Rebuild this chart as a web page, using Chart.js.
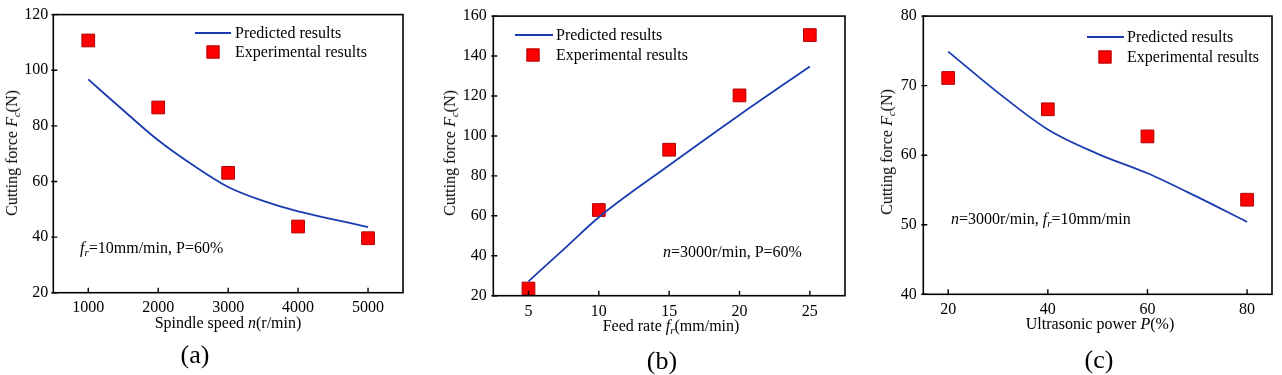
<!DOCTYPE html>
<html>
<head>
<meta charset="utf-8">
<script src="https://cdn.jsdelivr.net/npm/chart.js@4.4.1/dist/chart.umd.min.js"></script>
<style>
  html, body { margin:0; padding:0; background:#fff; }
  #wrap { position:relative; width:1282px; height:375px; overflow:hidden; font-family:"Liberation Serif","Times New Roman",serif; color:#000; }
  .panel { position:absolute; top:0; height:375px; }
  .panel canvas { position:absolute; left:0; top:0; }
  .t { position:absolute; white-space:nowrap; font-size:16px; line-height:1; }
  .c { transform:translate(-50%,-50%); }
  .r { transform:translate(-50%,-50%) rotate(-90deg); }
  .l { transform:translateY(-50%); }
  sub { font-size:11px; vertical-align:-3px; line-height:0; }
  .lgline { position:absolute; height:2px; background:#1a3cb0; }
  .lgsq { position:absolute; width:11px; height:11px; background:#ff0000; border:1px solid #b00000; transform:translate(-50%,-50%); }
  .lab { font-size:26px; }
</style>
</head>
<body>
<div id="wrap">
  <div class="panel" id="pa" style="left:0;width:425px;">
    <canvas id="ca" width="425" height="375"></canvas>
    <div class="t r" style="left:12px;top:153px;">Cutting force <i>F</i><sub><i>c</i></sub>(N)</div>
    <div class="t c" style="left:228px;top:323px;">Spindle speed <i>n</i>(r/min)</div>
    <div class="t c lab" style="left:195px;top:355px;">(a)</div>
    <div class="t l" style="left:80px;top:248px;"><i>f</i><sub><i>r</i></sub>=10mm/min, P=60%</div>
    <div class="lgline" style="left:195px;top:32px;width:36px;"></div>
    <div class="t l" style="left:235px;top:33px;">Predicted results</div>
    <div class="lgsq" style="left:213px;top:52px;"></div>
    <div class="t l" style="left:235px;top:52px;">Experimental results</div>
  </div>
  <div class="panel" id="pb" style="left:425px;width:430px;">
    <canvas id="cb" width="430" height="375"></canvas>
    <div class="t r" style="left:25px;top:153px;">Cutting force <i>F</i><sub><i>c</i></sub>(N)</div>
    <div class="t c" style="left:246px;top:326px;">Feed rate <i>f</i><sub><i>r</i></sub>(mm/min)</div>
    <div class="t c lab" style="left:237px;top:361px;">(b)</div>
    <div class="t l" style="left:238px;top:252px;"><i>n</i>=3000r/min, P=60%</div>
    <div class="lgline" style="left:90px;top:34px;width:38px;"></div>
    <div class="t l" style="left:131px;top:35px;">Predicted results</div>
    <div class="lgsq" style="left:108px;top:55px;"></div>
    <div class="t l" style="left:131px;top:55px;">Experimental results</div>
  </div>
  <div class="panel" id="pc" style="left:855px;width:427px;">
    <canvas id="cc" width="427" height="375"></canvas>
    <div class="t r" style="left:32px;top:152px;">Cutting force <i>F</i><sub><i>c</i></sub>(N)</div>
    <div class="t c" style="left:245px;top:324px;">Ultrasonic power <i>P</i>(%)</div>
    <div class="t c lab" style="left:244px;top:360px;">(c)</div>
    <div class="t l" style="left:96px;top:219px;"><i>n</i>=3000r/min, <i>f</i><sub><i>r</i></sub>=10mm/min</div>
    <div class="lgline" style="left:232px;top:36px;width:37px;"></div>
    <div class="t l" style="left:272px;top:37px;">Predicted results</div>
    <div class="lgsq" style="left:250px;top:57px;"></div>
    <div class="t l" style="left:272px;top:57px;">Experimental results</div>
  </div>
</div>
<script>
// ---------- data ----------
// (a) spindle speed
const speedExpX = [1000, 2000, 3000, 4000, 5000];
const speedExpY = [110.7, 86.6, 63.1, 43.8, 39.6];
const speedPredX = [1000, 1500, 2000, 2500, 3000, 3500, 4000, 4500, 5000];
const speedPredY = [96.7, 85.6, 74.8, 65.8, 58.0, 53.0, 49.2, 46.4, 43.6];
const speedTicksX = [1000, 2000, 3000, 4000, 5000];
const speedTicksY = [20, 40, 60, 80, 100, 120];

// (b) feed rate
const feedExpX = [5, 10, 15, 20, 25];
const feedExpY = [23.6, 62.9, 93.1, 120.3, 150.5];
const feedPredX = [5, 7.5, 10, 15, 20, 25];
const feedPredY = [27.2, 43.2, 59.3, 85.3, 110.5, 134.8];
const feedTicksX = [5, 10, 15, 20, 25];
const feedTicksY = [20, 40, 60, 80, 100, 120, 140, 160];

// (c) ultrasonic power
const powerExpX = [20, 40, 60, 80];
const powerExpY = [71.1, 66.6, 62.7, 53.6];
const powerPredX = [20, 30, 40, 50, 60, 70, 80];
const powerPredY = [74.9, 69.0, 63.7, 60.2, 57.4, 54.0, 50.4];
const powerTicksX = [20, 40, 60, 80];
const powerTicksY = [40, 50, 60, 70, 80];

// ---------- helpers ----------
const pts = (xs, ys) => xs.map((x, i) => ({x, y: ys[i]}));
const FONT = {family: "'Liberation Serif','Times New Roman',serif", size: 16};
const plain = v => String(v);

const framePlugin = {
  id: 'frame',
  afterDraw(chart) {
    const {ctx, chartArea: a, scales} = chart;
    ctx.save();
    ctx.strokeStyle = '#000';
    ctx.lineWidth = 1.6;
    ctx.strokeRect(a.left, a.top, a.right - a.left, a.bottom - a.top);
    ctx.lineWidth = 1.4;
    ctx.beginPath();
    scales.x.ticks.forEach(t => {
      const px = scales.x.getPixelForValue(t.value);
      ctx.moveTo(px, a.bottom); ctx.lineTo(px, a.bottom - 5);
    });
    scales.y.ticks.forEach(t => {
      const py = scales.y.getPixelForValue(t.value);
      ctx.moveTo(a.left - 2, py); ctx.lineTo(a.left + 4, py);
    });
    ctx.stroke();
    ctx.restore();
  }
};

function make(id, cfg) {
  const {predX, predY, expX, expY, ticksX, ticksY, xmin, xmax, ymin, ymax,
         pad, yW, xH, yPad, xPad} = cfg;
  new Chart(document.getElementById(id), {
    type: 'scatter',
    data: {
      datasets: [
        {
          label: 'Predicted results',
          data: pts(predX, predY),
          showLine: true,
          borderColor: '#1a3cb0',
          borderWidth: 1.8,
          pointRadius: 0,
          cubicInterpolationMode: 'monotone',
          fill: false,
          clip: false
        },
        {
          label: 'Experimental results',
          data: pts(expX, expY),
          showLine: false,
          pointStyle: 'rect',
          pointRadius: 9,
          backgroundColor: '#ff0000',
          borderColor: '#b00000',
          borderWidth: 1,
          clip: false
        }
      ]
    },
    options: {
      responsive: false,
      animation: false,
      devicePixelRatio: 1,
      layout: {padding: {left: 0, top: pad.top, right: pad.right, bottom: 0}},
      plugins: {legend: {display: false}, tooltip: {enabled: false}},
      scales: {
        x: {
          type: 'linear', min: xmin, max: xmax,
          grid: {display: false, drawTicks: false},
          border: {display: false},
          ticks: {font: FONT, color: '#000', padding: xPad, maxRotation: 0, callback: plain},
          afterBuildTicks: s => { s.ticks = ticksX.map(v => ({value: v})); },
          afterFit: s => { s.height = xH; }
        },
        y: {
          type: 'linear', min: ymin, max: ymax,
          grid: {display: false, drawTicks: false},
          border: {display: false},
          ticks: {font: FONT, color: '#000', padding: yPad, callback: plain},
          afterBuildTicks: s => { s.ticks = ticksY.map(v => ({value: v})); },
          afterFit: s => { s.width = yW; }
        }
      }
    },
    plugins: [framePlugin]
  });
}

make('ca', {predX: speedPredX, predY: speedPredY, expX: speedExpX, expY: speedExpY,
  ticksX: speedTicksX, ticksY: speedTicksY, xmin: 500, xmax: 5500, ymin: 20, ymax: 120,
  pad: {top: 14, right: 22}, yW: 53.3, xH: 82.3, yPad: 5, xPad: 5});

make('cb', {predX: feedPredX, predY: feedPredY, expX: feedExpX, expY: feedExpY,
  ticksX: feedTicksX, ticksY: feedTicksY, xmin: 2.5, xmax: 27.5, ymin: 20, ymax: 160,
  pad: {top: 8.3, right: 6}, yW: 68.3, xH: 79.3, yPad: 6.5, xPad: 6});

make('cc', {predX: powerPredX, predY: powerPredY, expX: powerExpX, expY: powerExpY,
  ticksX: powerTicksX, ticksY: powerTicksY, xmin: 15, xmax: 85, ymin: 40, ymax: 80,
  pad: {top: 8.3, right: 5}, yW: 68.3, xH: 80.7, yPad: 6.5, xPad: 6});
</script>
</body>
</html>
